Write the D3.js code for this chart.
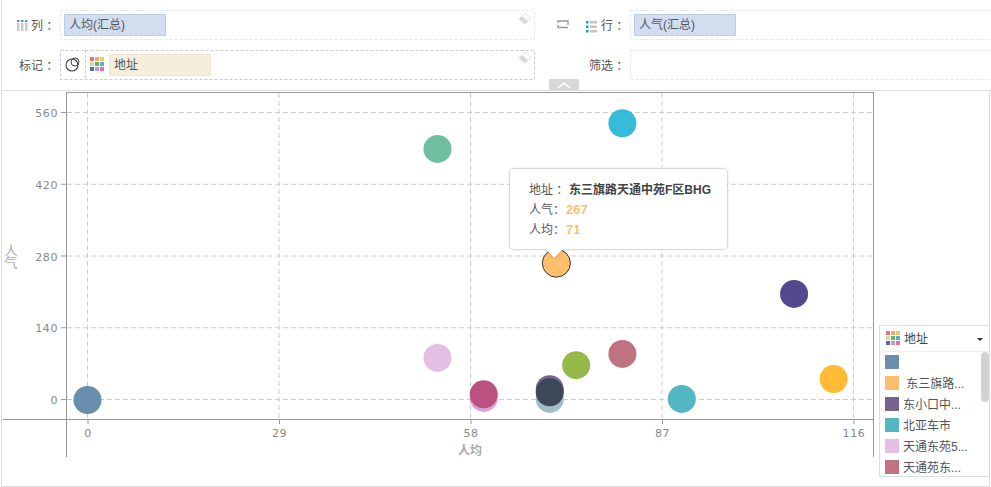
<!DOCTYPE html>
<html>
<head>
<meta charset="utf-8">
<script src="https://cdn.jsdelivr.net/npm/d3@7"></script>
<style>
html, body { margin: 0; padding: 0; background: #fff; overflow: hidden; }
text { font-family: "Liberation Sans", "Noto Sans CJK SC", sans-serif; }
.tick text { font-family: "DejaVu Sans", sans-serif; font-size: 11px; fill: #888; letter-spacing: 0.6px; }
</style>
</head>
<body>
<svg id="chart" width="991" height="487"></svg>
<script>
// values
var perCapita  = [0, 53, 81, 107, 113, 53, 81, 74, 90, 60, 60, 70, 70, 70, 71];
var popularity = [0, 490, 540, 207, 41, 82, 90, 68, 2, 4, 11, 2, 21, 15, 267];
var pointColors = ['#6a8fad', '#70bf9f', '#36bcd9', '#55488f', '#ffbb33', '#e4bfe3', '#bf727f', '#96ba4a',
    '#52b7c2', '#dc9fd6', '#bb5180', '#a3bcc8', '#76648c', '#3d4856', '#fdbf6b'];

var xTicks = [0, 29, 58, 87, 116];
var yTicks = [0, 140, 280, 420, 560];

var legendLabels = ['', ' 东三旗路...', '东小口中...', '北亚车市', '天通东苑5...', '天通苑东...'];
var legendColors = ['#6a8fad', '#fdbf6b', '#76648c', '#52b7c2', '#e4bfe3', '#bf727f'];

var tileColors = ['#ee6f6f', '#f3a56b', '#edcb5d', '#c9e0a5', '#5fb55f', '#62a8dd', '#4f6f9f', '#c79ac5', '#ea6fa8'];

var svg = d3.select('#chart');

var x = d3.scaleLinear().domain([0, 116]).range([87, 853]);
var y = d3.scaleLinear().domain([0, 560]).range([400, 113]);

function line(x1, y1, x2, y2, color, dash, width){
    return svg.append('line')
        .attr('x1', x1).attr('y1', y1).attr('x2', x2).attr('y2', y2)
        .attr('stroke', color)
        .attr('stroke-width', width || 1)
        .attr('stroke-dasharray', dash || null);
}
function label(px, py, txt, size, color, anchor, weight){
    return svg.append('text')
        .attr('x', px).attr('y', py)
        .attr('font-size', size)
        .attr('fill', color)
        .attr('text-anchor', anchor || 'start')
        .attr('font-weight', weight || null)
        .style('white-space', 'pre')
        .text(txt);
}

// outer frame
line(1.5, 0, 1.5, 487, '#ddd');
line(989.5, 90, 989.5, 487, '#ddd');
line(1, 486.5, 990, 486.5, '#ddd');
line(1, 90.5, 991, 90.5, '#ddd');

// shelf boxes
function shelf(bx, by, bw, bh, color){
    svg.append('rect')
        .attr('x', bx + 0.5).attr('y', by + 0.5)
        .attr('width', bw).attr('height', bh)
        .attr('fill', 'none')
        .attr('stroke', color)
        .attr('stroke-dasharray', '3,2');
}
function pill(bx, by, bw, fill, stroke, txt){
    svg.append('rect')
        .attr('x', bx + 0.5).attr('y', by + 0.5)
        .attr('width', bw).attr('height', 21)
        .attr('fill', fill)
        .attr('stroke', stroke);
    label(bx + 5, by + 15, txt, 12, '#555');
}
function tiles(tx, ty){
    tileColors.forEach(function(c, i){
        svg.append('rect')
            .attr('x', tx + (i % 3) * 5)
            .attr('y', ty + Math.floor(i / 3) * 5)
            .attr('width', 4).attr('height', 4)
            .attr('fill', c);
    });
}
function eraser(ex, ey){
    svg.append('path')
        .attr('d', 'M' + ex + ',' + (ey + 6) + 'l6,-6l6,5l-6,6z')
        .attr('fill', '#fff')
        .attr('stroke', '#ddd')
        .attr('stroke-width', 0.8);
    svg.append('path')
        .attr('d', 'M' + ex + ',' + (ey + 6) + 'l3,-3l6,5l-3,3z')
        .attr('fill', '#d9d9d9');
}

shelf(60, 10, 474, 29, '#e6e6e6');
shelf(60, 50, 474, 29, '#ccc');
shelf(630, 10, 362, 29, '#e6e6e6');
shelf(630, 50, 362, 29, '#e6e6e6');
line(85.5, 50, 85.5, 80, '#ccc', '3,2');

// column / row icons
[17, 21, 25].forEach(function(ix){
    svg.append('rect').attr('x', ix).attr('y', 23).attr('width', 2.5).attr('height', 8).attr('fill', '#ccc');
    svg.append('rect').attr('x', ix).attr('y', 20).attr('width', 2.5).attr('height', 2).attr('fill', '#3a9fd0');
});
[21, 25.5, 30].forEach(function(iy){
    svg.append('rect').attr('x', 586).attr('y', iy).attr('width', 2.5).attr('height', 2.5).attr('fill', '#1a9ad6');
    svg.append('rect').attr('x', 590).attr('y', iy).attr('width', 7).attr('height', 2.5).attr('fill', '#c4c4c4');
});

label(31, 30, '列 ：', 12, '#555');
label(19, 70, '标记 ：', 12, '#555');
label(601, 30, '行 ：', 12, '#555');
label(589, 70, '筛选 ：', 12, '#555');

pill(64, 14, 101, '#d2ddef', '#bccde6', '人均(汇总)');
pill(634, 14, 101, '#d2ddef', '#bccde6', '人气(汇总)');
pill(109, 54, 101, '#f6eedc', '#f0e6cf', '地址');
tiles(90, 57);

// mark type icon
svg.append('circle').attr('cx', 72).attr('cy', 65).attr('r', 6).attr('fill', 'none').attr('stroke', '#444').attr('stroke-width', 1.1);
svg.append('circle').attr('cx', 75).attr('cy', 62).attr('r', 4).attr('fill', 'none').attr('stroke', '#444').attr('stroke-width', 1);

eraser(519, 13);
eraser(519, 52);

// swap icon
svg.append('path')
    .attr('d', 'M568,25v-4h-10v2M558,25v2.5h10')
    .attr('fill', 'none')
    .attr('stroke', '#999')
    .attr('stroke-width', 1.4);

// collapse tab
svg.append('rect').attr('x', 549).attr('y', 79).attr('width', 30).attr('height', 11).attr('fill', '#d8d8d8');
svg.append('path').attr('d', 'M558,88l6,-5l6,5').attr('fill', 'none').attr('stroke', '#fff').attr('stroke-width', 1.6);

// plot frame
line(66, 92.5, 873, 92.5, '#999');
line(873.5, 92, 873.5, 457, '#999');
line(66.5, 92, 66.5, 457, '#999');

// grid
var grid = svg.append('g');
xTicks.forEach(function(d){
    grid.append('line')
        .attr('x1', x(d) + 0.5).attr('x2', x(d) + 0.5)
        .attr('y1', 93).attr('y2', 419)
        .attr('stroke', '#ccc').attr('stroke-dasharray', '5,3');
});
yTicks.forEach(function(d){
    grid.append('line')
        .attr('x1', 67).attr('x2', 872)
        .attr('y1', y(d) - 0.5).attr('y2', y(d) - 0.5)
        .attr('stroke', '#ccc').attr('stroke-dasharray', '5,3');
});

// axes
var xAxis = d3.axisBottom(x).tickValues(xTicks).tickSize(5).tickPadding(5).tickFormat(d3.format('d'));
var yAxis = d3.axisLeft(y).tickValues(yTicks).tickSize(0).tickPadding(4).tickFormat(d3.format('d'));

var gx = svg.append('g').attr('transform', 'translate(0.5,419)').call(xAxis);
gx.select('.domain').remove();
gx.selectAll('line').attr('stroke', '#999');
var gy = svg.append('g').attr('transform', 'translate(62,0)').call(yAxis);
gy.select('.domain').remove();
yTicks.forEach(function(d){
    line(61, y(d) - 0.5, 66, y(d) - 0.5, '#999');
});
line(3, 419.5, 873, 419.5, '#999');

label(470, 455, '人均', 12, '#aaa', 'middle', 'bold');
// vertical upright, one text element
label(10, 244, '人气', 13, '#aaa')
    .style('writing-mode', 'vertical-rl')
    .style('text-orientation', 'upright')
    .style('letter-spacing', '-1px');

// points
svg.append('g').selectAll('circle')
    .data(perCapita)
    .enter().append('circle')
    .attr('cx', function(d){ return x(d) + 0.5; })
    .attr('cy', function(d, i){ return y(popularity[i]); })
    .attr('r', 14)
    .attr('fill', function(d, i){ return pointColors[i]; })
    .attr('stroke', function(d, i){ return i === perCapita.length - 1 ? '#333' : 'none'; });

// tooltip
var defs = svg.append('defs');
var shadow = defs.append('filter').attr('id', 'tipShadow')
    .attr('x', '-10%').attr('y', '-10%').attr('width', '120%').attr('height', '125%');
shadow.append('feDropShadow')
    .attr('dx', 0).attr('dy', 0).attr('stdDeviation', 1)
    .attr('flood-color', '#000').attr('flood-opacity', 0.45);

svg.append('path')
    .attr('d', 'M518,169h205a4,4 0 0 1 4,4v72a4,4 0 0 1 -4,4h-160l-9,9l-8,-9h-32a4,4 0 0 1 -4,-4v-72a4,4 0 0 1 4,-4z')
    .attr('fill', '#fff')
    .attr('filter', 'url(#tipShadow)');

label(529, 194, '地址 ：', 12, '#555');
label(569, 194, '东三旗路天通中苑F区BHG', 12, '#444', 'start', 'bold');
label(529, 214, '人气：', 12, '#555');
label(566, 214, popularity[popularity.length - 1], 13, '#fdbf6b', 'start', 'bold');
label(529, 234, '人均：', 12, '#555');
label(566, 234, perCapita[perCapita.length - 1], 13, '#fdbf6b', 'start', 'bold');

// legend
svg.append('rect').attr('x', 879.5).attr('y', 325.5).attr('width', 110).attr('height', 151)
    .attr('fill', '#fff').attr('stroke', '#ddd');
line(880, 351.5, 989, 351.5, '#eee');
tiles(886, 331);
label(904, 343, '地址', 12, '#444');
svg.append('path').attr('d', 'M977,338h6l-3,3z').attr('fill', '#333');

legendLabels.forEach(function(d, i){
    var ly = 355 + i * 21;
    svg.append('rect').attr('x', 885).attr('y', ly).attr('width', 14).attr('height', 14).attr('fill', legendColors[i]);
    label(903, ly + 11.5, d, 12, '#555');
});
svg.append('rect').attr('x', 981).attr('y', 352).attr('width', 8).attr('height', 50).attr('rx', 4).attr('fill', '#d2d2d2');
</script>
</body>
</html>
